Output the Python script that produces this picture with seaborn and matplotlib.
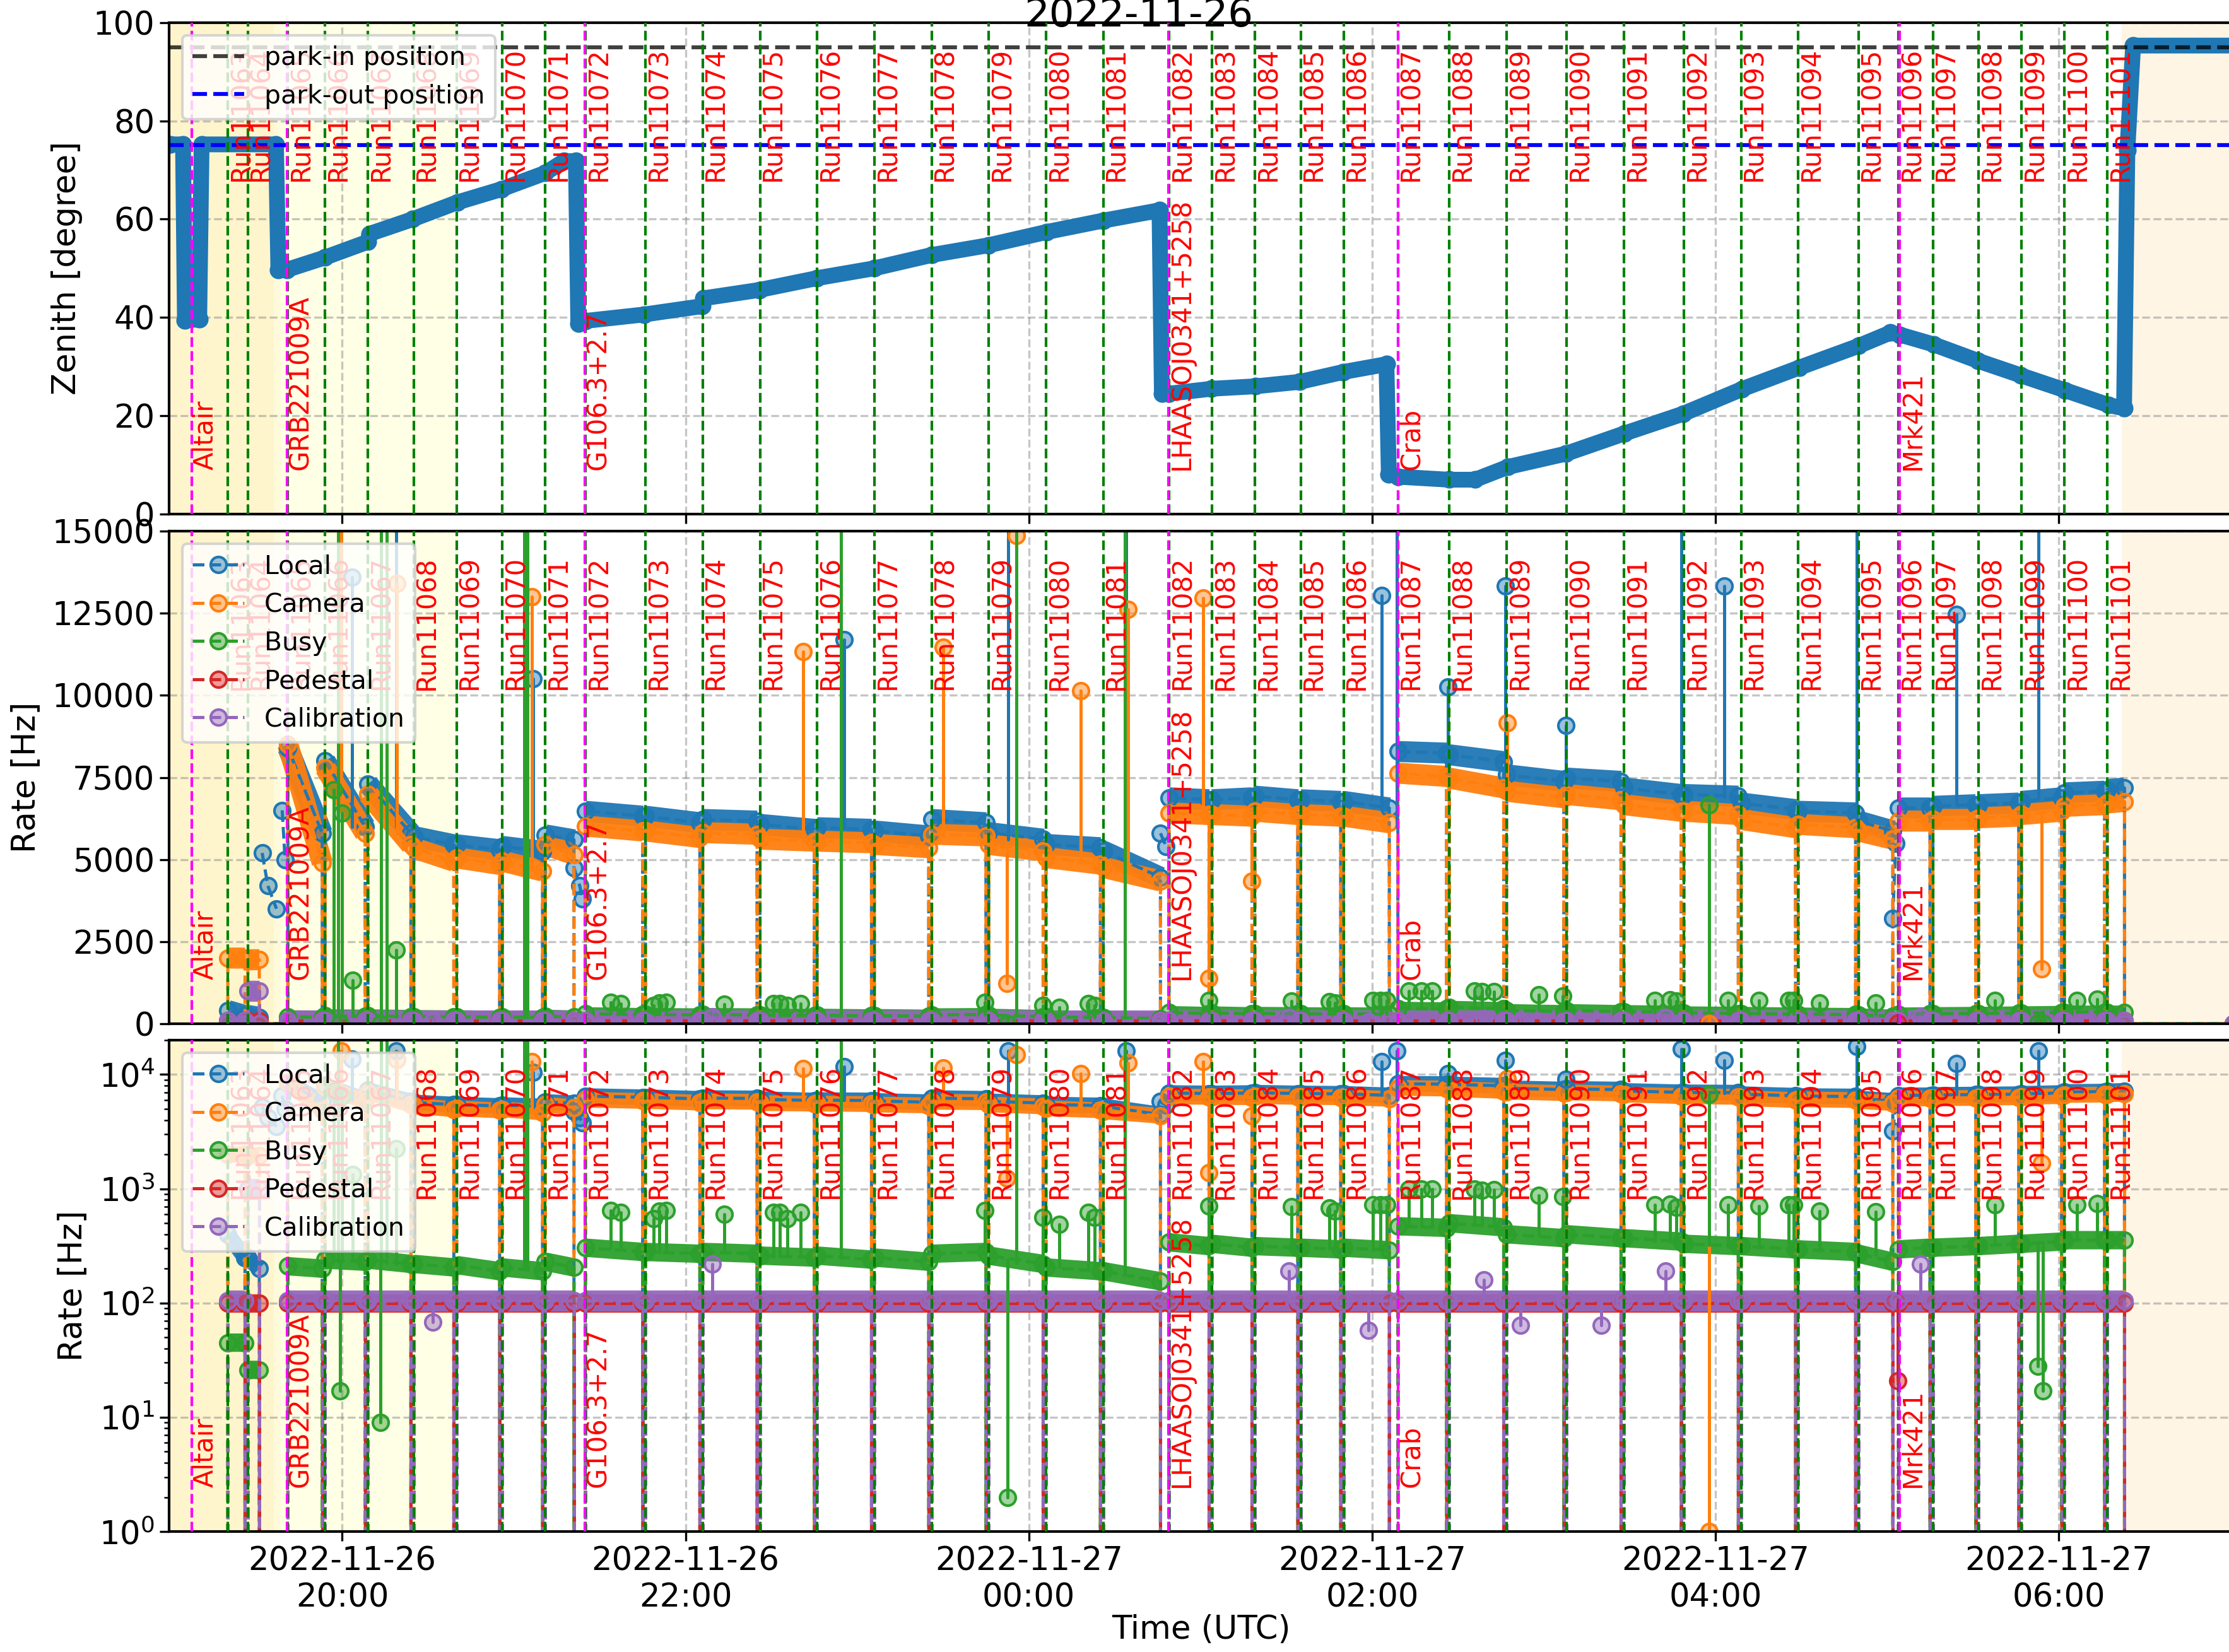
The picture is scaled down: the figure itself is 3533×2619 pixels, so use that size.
import numpy as np
import pandas as pd
import matplotlib
matplotlib.use("Agg")
import matplotlib.pyplot as plt
import matplotlib.dates as mdates
import matplotlib.transforms as mtransforms
from matplotlib.colors import to_rgba
import seaborn as sns

# ---------------- data ----------------
run_ids = [11063, 11064, 11065, 11066, 11067, 11068, 11069, 11070, 11071, 11072,
           11073, 11074, 11075, 11076, 11077, 11078, 11079, 11080, 11081, 11082,
           11083, 11084, 11085, 11086, 11087, 11088, 11089, 11090, 11091, 11092,
           11093, 11094, 11095, 11096, 11097, 11098, 11099, 11100, 11101]
run_start = ["19:20", "19:27", "19:41", "19:54", "20:09", "20:25", "20:40", "20:56", "21:11", "21:25",
             "21:46", "22:06", "22:26", "22:46", "23:06", "23:26", "23:46", "00:06", "00:26", "00:49",
             "01:04", "01:19", "01:35", "01:50", "02:09", "02:27", "02:47", "03:08", "03:28", "03:49",
             "04:09", "04:29", "04:50", "05:04", "05:16", "05:32", "05:47", "06:02", "06:17"]
run_end = ["19:26", "19:31", "19:53", "20:08", "20:24", "20:39", "20:55", "21:10", "21:21", "21:45",
           "22:05", "22:25", "22:45", "23:05", "23:25", "23:45", "00:05", "00:25", "00:46", "01:03",
           "01:18", "01:34", "01:49", "02:06", "02:26", "02:46", "03:07", "03:27", "03:48", "04:08",
           "04:28", "04:49", "05:02", "05:15", "05:31", "05:46", "06:01", "06:16", "06:23"]

local_start = [400, 250, 8400, 8000, 7300, 5700, 5450, 5400, 5750, 6470,
               6320, 6220, 6070, 5970, 5870, 6220, 5820, 5460, 5260, 6880,
               6820, 6930, 6820, 6770, 8290, 8190, 7580, 7480, 7180, 6980,
               6720, 6470, 6170, 6570, 6620, 6670, 6770, 7030, 7130]
local_end = [250, 200, 5800, 6000, 5800, 5450, 5300, 5250, 5600, 6320,
             6120, 6170, 5920, 5920, 5720, 6120, 5620, 5360, 4460, 6820,
             6880, 6820, 6770, 6570, 8240, 7980, 7380, 7380, 6980, 6930,
             6520, 6420, 5870, 6570, 6670, 6720, 6880, 7080, 7180]
camera_start = [2000, 1950, 8500, 7800, 7000, 5350, 5050, 4950, 5450, 6020,
                5870, 5820, 5620, 5560, 5460, 5770, 5460, 5060, 4760, 6420,
                6370, 6470, 6370, 6320, 7630, 7480, 7080, 6980, 6670, 6470,
                6220, 6070, 5870, 6170, 6220, 6270, 6370, 6620, 6720]
camera_end = [2000, 1950, 4900, 5800, 5450, 4950, 4850, 4650, 5150, 5870,
              5670, 5770, 5560, 5510, 5360, 5720, 5260, 4860, 4350, 6370,
              6320, 6370, 6320, 6120, 7530, 7180, 6880, 6820, 6470, 6370,
              5970, 5970, 5620, 6170, 6220, 6320, 6470, 6670, 6770]
busy_start = [45, 26, 210, 240, 240, 220, 215, 205, 230, 305,
              280, 280, 260, 260, 250, 270, 260, 205, 190, 340,
              330, 315, 305, 305, 470, 500, 400, 400, 370, 330,
              315, 295, 270, 295, 305, 315, 330, 355, 355]
busy_end = [45, 26, 200, 230, 220, 205, 190, 190, 205, 280,
            270, 270, 250, 240, 230, 280, 220, 190, 155, 315,
            305, 305, 295, 290, 455, 460, 370, 370, 345, 315,
            295, 280, 230, 305, 315, 330, 345, 355, 355]
pedestal_level = [100, 100, 100, 100, 100, 100, 100, 100, 100, 100,
                  100, 100, 100, 100, 100, 100, 100, 100, 100, 100,
                  100, 100, 100, 100, 100, 100, 100, 100, 100, 100,
                  100, 100, 100, 100, 100, 100, 100, 100, 100]
calib_level = [105, 1000, 105, 105, 105, 105, 105, 105, 105, 105,
               105, 105, 105, 105, 105, 105, 105, 105, 105, 105,
               105, 105, 105, 105, 105, 105, 105, 105, 105, 105,
               105, 105, 105, 105, 105, 105, 105, 105, 105]

# local rate while slewing (outside runs)
local_slew_t = [["19:32", "19:34", "19:37"], ["19:39", "19:40"], ["21:21", "21:23", "21:24"],
                ["00:46", "00:48"], ["05:02", "05:03"]]
local_slew_v = [[5200, 4200, 3500], [6500, 5000], [4750, 4200, 3800], [5800, 5400], [3200, 5500]]

# isolated spikes / dips: time, band level, excursion
local_spike_t = ["20:03:30", "20:18:50", "21:06:40", "22:55:20", "23:52:50", "00:34:00", "02:03:20", "02:08:40",
                 "02:26:30", "02:46:40", "03:07:40", "03:48:10", "04:03:00", "04:49:20", "05:24:20", "05:53:00"]
local_spike_base = [6000, 6000, 5300, 5950, 5600, 5000, 6600, 6000, 8100, 7500, 7450, 6950, 6900, 6200, 6680, 6850]
local_spike_peak = [13600, 16000, 10500, 11700, 16000, 16000, 13050, 16000, 10250, 13330, 9090, 16700, 13330, 17500,
                    12470, 16000]

camera_spike_t = ["19:59:40", "20:19:10", "21:06:10", "22:41:00", "23:30:00", "23:55:40", "00:18:10", "00:34:40",
                  "01:00:50", "02:47:10", "23:52:20", "01:02:50", "01:17:50", "03:57:50", "05:54:00"]
camera_spike_base = [7500, 5800, 4700, 5550, 5700, 5300, 4900, 4600, 6400, 7000, 5400, 6400, 6450, 6400, 6400]
camera_spike_peak = [16000, 13400, 13000, 11340, 11460, 14860, 10150, 12620, 12970, 9170, 1230, 1380, 4350, 1, 1680]

busy_spike_t = ["19:57:00", "19:58:40", "20:00:00", "20:03:40", "20:13:30", "20:15:30", "20:18:50", "21:03:40",
                "21:04:40", "22:54:20", "23:55:40", "00:33:30", "03:57:50",
                "21:33:50", "21:37:20", "21:48:50", "21:50:50", "21:53:10", "22:13:30", "22:30:50", "22:33:00",
                "22:35:40", "22:40:20", "23:44:40", "00:04:50", "00:10:40", "00:20:50", "00:23:00", "01:02:50",
                "01:31:50", "01:45:00", "01:47:00", "02:00:10", "02:03:00", "02:05:00", "02:12:50", "02:17:20",
                "02:21:00", "02:35:40", "02:38:30", "02:42:40", "02:58:10", "03:06:40", "03:38:50", "03:44:10",
                "03:46:20", "04:04:20", "04:15:10", "04:25:30", "04:27:20", "04:36:20", "04:56:00", "05:37:40",
                "06:06:20", "06:13:20",
                "19:59:10", "20:13:20", "23:52:30", "05:52:40", "05:54:30"]
busy_spike_base = [230, 230, 230, 235, 230, 225, 220, 200, 200, 245, 225, 180, 320,
                   300, 300, 280, 280, 280, 275, 255, 255, 255, 255, 275, 215, 205, 200, 195, 320,
                   305, 300, 300, 295, 295, 290, 470, 470, 465, 480, 475, 470, 395, 375, 345, 340,
                   335, 310, 305, 285, 285, 285, 265, 320, 355, 355,
                   230, 230, 240, 340, 340]
busy_spike_peak = [7130, 30000, 6420, 1330, 30000, 30000, 2240, 30000, 30000, 30000, 30000, 30000, 6670,
                   650, 620, 550, 640, 650, 600, 620, 620, 550, 620, 650, 560, 490, 620, 560, 710,
                   700, 680, 640, 720, 720, 720, 990, 990, 990, 1000, 970, 980, 880, 850, 720, 730,
                   690, 720, 710, 720, 720, 640, 630, 720, 720, 740,
                   17, 9, 2, 28, 17]

pedestal_spike_t = ["05:03:50"]
pedestal_spike_base = [100]
pedestal_spike_peak = [21]

calib_spike_t = ["20:31:40", "22:09:20", "01:31:00", "01:58:40", "02:39:00", "02:51:50", "03:20:00", "03:42:30",
                 "05:11:40"]
calib_spike_base = [105, 105, 105, 105, 105, 105, 105, 105, 105]
calib_spike_peak = [68, 220, 190, 58, 160, 64, 64, 190, 220]

# telescope zenith angle
zen_t = ["19:00:00", "19:04:20", "19:05:00", "19:10:00", "19:10:50", "19:36:50", "19:37:40", "19:40:40",
         "19:54:00", "20:09:00", "20:09:30", "20:24:40", "20:40:10", "20:55:40", "21:11:00", "21:17:30",
         "21:21:40", "21:22:30", "21:25:00", "21:45:30", "22:05:50", "22:06:20", "22:25:50", "22:46:00",
         "23:06:00", "23:26:00", "23:46:00", "00:06:20", "00:26:00", "00:45:40", "00:46:30", "00:49:00",
         "01:03:50", "01:19:20", "01:34:40", "01:49:50", "02:05:00", "02:05:50", "02:09:10", "02:26:50",
         "02:36:00", "02:47:30", "03:07:50", "03:28:10", "03:48:40", "04:09:10", "04:29:20", "04:50:00",
         "05:01:10", "05:04:30", "05:16:20", "05:31:40", "05:46:50", "06:02:10", "06:17:20", "06:22:50",
         "06:24:00", "06:26:00", "07:01:00"]
zen_deg = [75.2, 75.2, 39.4, 39.6, 75.2, 75.2, 49.7, 49.7,
           52.2, 55.4, 57.0, 60.0, 63.4, 66.1, 69.4, 71.8,
           71.8, 38.8, 39.3, 40.6, 42.3, 43.9, 45.6, 48.0,
           50.0, 52.7, 54.7, 57.4, 59.7, 61.8, 24.5, 24.5,
           25.5, 26.0, 26.9, 28.9, 30.5, 8.1, 7.6, 7.0,
           7.0, 9.6, 12.3, 16.4, 20.4, 25.4, 29.8, 34.2,
           36.9, 36.5, 34.5, 31.2, 28.2, 25.2, 22.2, 21.5,
           74.0, 95.3, 95.3]

source_names = ["Altair", "GRB221009A", "G106.3+2.7", "LHAASOJ0341+5258", "Crab", "Mrk421"]
source_start = ["19:07:20", "19:40:40", "21:24:50", "00:48:50", "02:09:10", "05:04:20"]

park_in = 95
park_out = 75


def tnum(s):
    day = "2022-11-27" if int(s[:2]) < 12 else "2022-11-26"
    return mdates.date2num(pd.Timestamp(f"{day} {s}"))


# ---------------- style ----------------
sns.set_theme(style="ticks", rc={"axes.edgecolor": "black", "axes.linewidth": 1.0,
                                 "xtick.color": "black", "ytick.color": "black",
                                 "text.color": "black", "axes.labelcolor": "black",
                                 "xtick.major.size": 3.5, "ytick.major.size": 3.5,
                                 "xtick.major.width": 0.8, "ytick.major.width": 0.8,
                                 "ytick.minor.size": 2, "ytick.minor.width": 0.6})
plt.rcParams["font.family"] = ["DejaVu Sans"]

C_LOCAL, C_CAM, C_BUSY, C_PED, C_CAL = "tab:blue", "tab:orange", "tab:green", "tab:red", "tab:purple"
T0, T1 = tnum("18:59:30"), tnum("07:01:00")
TICK_FS, LAB_FS, RED_FS, LEG_FS = 12.3, 12.3, 10, 9.8

fig = plt.figure(figsize=(3533 / 300, 2619 / 300), dpi=300)
ax1 = fig.add_axes([0.0759, 0.6888, 0.926, 0.2976])
ax2 = fig.add_axes([0.0759, 0.3803, 0.926, 0.2982], sharex=ax1)
ax3 = fig.add_axes([0.0759, 0.0729, 0.926, 0.2975], sharex=ax1)
axes = [ax1, ax2, ax3]

for ax in axes:
    # twilight shading
    ax.axvspan(T0, tnum("20:40"), color="yellow", alpha=0.1, lw=0, zorder=0)
    ax.axvspan(T0, tnum("19:36"), color="orange", alpha=0.1, lw=0, zorder=0)
    ax.axvspan(tnum("19:36"), tnum("19:38:30"), color="orange", alpha=0.05, lw=0, zorder=0)
    ax.axvspan(tnum("06:22"), T1, color="orange", alpha=0.1, lw=0, zorder=0)
    ax.grid(True, which="major", ls="--", color="grey", alpha=0.45, lw=0.8)
    ax.set_axisbelow(True)


def draw_rate(ax, name, color, lev0, lev1, band_lw):
    bx, by, lx, ly = [], [], [], []
    for s, e, a, b in zip(run_start, run_end, lev0, lev1):
        ts, te = tnum(s), tnum(e)
        bx += [ts, te, np.nan]
        by += [a, b, np.nan]
        lx += [ts, ts, te, te]
        ly += [0, a, b, 0]
    lx.append(T1)
    ly.append(0)
    ax.plot(bx, by, color=color, lw=band_lw, solid_capstyle="butt", alpha=0.95, zorder=2)
    ax.plot(lx, ly, ls="--", lw=1.2, color=color, marker="o", ms=6,
            mfc=to_rgba(color, 0.45), mec=color, mew=1.0, label=name, zorder=2.2)


def draw_spikes(ax, color, ts, base, peak):
    sx, sy = [], []
    for t, b, p in zip(ts, base, peak):
        x = tnum(t)
        sx += [x, x, np.nan]
        sy += [b, p, np.nan]
    ax.plot(sx, sy, color=color, lw=1.2, zorder=2.3)
    ax.plot([tnum(t) for t in ts], peak, ls="none", marker="o", ms=6,
            mfc=to_rgba(color, 0.45), mec=color, mew=1.0, zorder=2.3)


for ax, big, small in [(ax2, 8, 5), (ax3, 6, 7)]:
    draw_rate(ax, "Local", C_LOCAL, local_start, local_end, big)
    for st, sv in zip(local_slew_t, local_slew_v):
        ax.plot([tnum(t) for t in st], sv, ls="--", lw=1.2, color=C_LOCAL, marker="o", ms=6,
                mfc=to_rgba(C_LOCAL, 0.45), mec=C_LOCAL, zorder=2.2)
    draw_spikes(ax, C_LOCAL, local_spike_t, local_spike_base, local_spike_peak)
    draw_rate(ax, "Camera", C_CAM, camera_start, camera_end, big)
    draw_spikes(ax, C_CAM, camera_spike_t, camera_spike_base, camera_spike_peak)
    draw_rate(ax, "Busy", C_BUSY, busy_start, busy_end, small)
    draw_spikes(ax, C_BUSY, busy_spike_t, busy_spike_base, busy_spike_peak)
    draw_rate(ax, "Pedestal", C_PED, pedestal_level, pedestal_level, small)
    draw_spikes(ax, C_PED, pedestal_spike_t, pedestal_spike_base, pedestal_spike_peak)
    draw_rate(ax, "Calibration", C_CAL, calib_level, calib_level, 8)
    draw_spikes(ax, C_CAL, calib_spike_t, calib_spike_base, calib_spike_peak)

# zenith
zen = pd.DataFrame({"time": [tnum(t) for t in zen_t], "zenith": zen_deg})
sns.lineplot(data=zen, x="time", y="zenith", ax=ax1, estimator=None, sort=False,
             color=C_LOCAL, lw=6, marker="o", ms=6, markeredgecolor=C_LOCAL,
             markerfacecolor=to_rgba(C_LOCAL, 0.5), legend=False, zorder=2)
ax1.axhline(park_in, color="black", ls="--", lw=1.5, alpha=0.75, label="park-in position", zorder=2.5)
ax1.axhline(park_out, color="blue", ls="--", lw=1.5, label="park-out position", zorder=2.5)

# run and source markers
for ax in axes:
    tr = mtransforms.blended_transform_factory(ax.transData, ax.transAxes)
    for rid, s in zip(run_ids, run_start):
        x = tnum(s)
        ax.axvline(x, color="green", ls="--", lw=1.0, zorder=3)
        ax.text(x, 0.95, f"Run{rid}", transform=tr, rotation=90, ha="left", va="top",
                color="red", fontsize=RED_FS, zorder=4)
    for name, s in zip(source_names, source_start):
        x = tnum(s)
        ax.axvline(x, color="magenta", ls="--", lw=1.0, zorder=3)
        ax.text(x, 0.09, name, transform=tr, rotation=90, ha="left", va="bottom",
                color="red", fontsize=RED_FS, zorder=4)

ax1.set_ylim(0, 100)
ax1.set_yticks([0, 20, 40, 60, 80, 100])
ax1.set_ylabel("Zenith [degree]", fontsize=LAB_FS)
ax1.legend(loc="upper left", fontsize=LEG_FS)

ax2.set_ylim(0, 15000)
ax2.set_yticks(np.arange(0, 15001, 2500))
ax2.set_ylabel("Rate [Hz]", fontsize=LAB_FS)
ax2.legend(loc="upper left", fontsize=LEG_FS)

ax3.set_yscale("log", nonpositive="clip")
ax3.set_ylim(1, 2e4)
ax3.set_ylabel("Rate [Hz]", fontsize=LAB_FS)
ax3.legend(loc="upper left", fontsize=LEG_FS)

ax3.set_xlim(T0, T1)
ax3.xaxis.set_major_locator(mdates.HourLocator(byhour=range(0, 24, 2)))
ax3.xaxis.set_major_formatter(mdates.DateFormatter("%Y-%m-%d\n%H:%M"))
for ax in axes:
    ax.tick_params(labelsize=TICK_FS, pad=2)
    ax.set_xlabel("")
ax1.tick_params(labelbottom=False)
ax2.tick_params(labelbottom=False)
ax3.set_xlabel("Time (UTC)", fontsize=LAB_FS, labelpad=0)

fig.text(0.511, 1 - 42 / 2619, "2022-11-26", ha="center", va="baseline", fontsize=15)

fig.savefig("out.png", dpi=300)
